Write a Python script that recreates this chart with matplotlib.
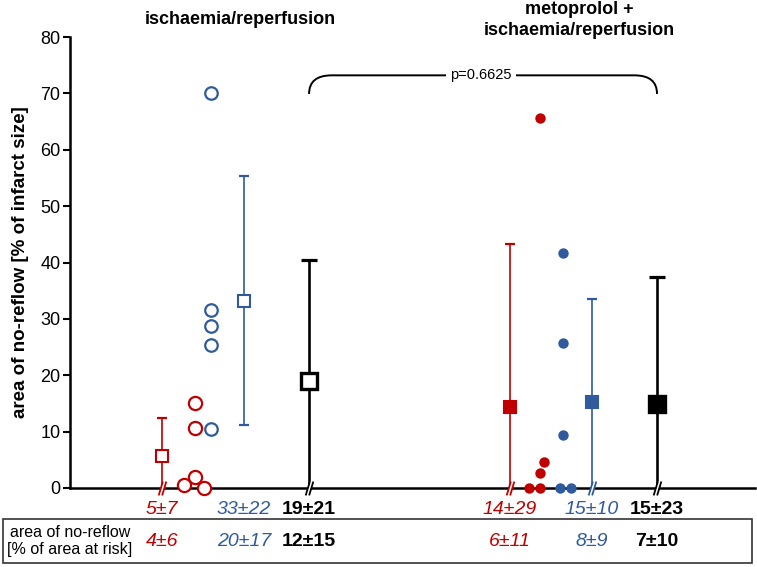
import numpy as np
import matplotlib
matplotlib.use("Agg")
import matplotlib.pyplot as plt
from matplotlib.path import Path
from matplotlib.patches import PathPatch, Rectangle

plt.rcParams['font.family'] = ['Liberation Sans', 'DejaVu Sans']

# ------------------------------------------
# Data
# ------------------------------------------

RED = "#c00000"
BLUE = "#2f5a9e"
BLACK = "#000000"

# individual values, area of no-reflow [% of infarct size]
ir_red = [15.0, 10.7, 1.9, 0.6, 0.0]
ir_blue = [70.0, 31.5, 28.7, 25.3, 10.4]
met_red = [65.6, 4.6, 2.7, 0.0, 0.0]
met_blue = [41.7, 25.8, 9.4, 0.0, 0.0]

# mean and SD (as drawn)
ir_means = [5.7, 33.2, 19.0]
ir_sds = [6.7, 22.1, 21.5]
met_means = [14.4, 15.3, 14.9]
met_sds = [28.8, 18.2, 22.6]

# text rows below the axis
ir_infarct_labels = ["5\u00b17", "33\u00b122", "19\u00b121"]
met_infarct_labels = ["14\u00b129", "15\u00b110", "15\u00b123"]
ir_risk_labels = ["4\u00b16", "20\u00b117", "12\u00b115"]
met_risk_labels = ["6\u00b111", "8\u00b19", "7\u00b110"]

p_text = "p=0.6625"

# ------------------------------------------
# Layout
# ------------------------------------------

ir_pos = [1.34, 2.54, 3.49]      # red mean, blue mean, pooled
met_pos = [6.42, 7.62, 8.57]
ir_dot_x = [1.82, 2.06]          # red dots, blue dots
met_dot_x = [6.86, 7.15]

# small horizontal offsets so overlapping dots do not hide each other
ir_red_off = [0.0, 0.0, 0.01, -0.15, 0.14]
ir_blue_off = [0.0, 0.0, 0.0, 0.0, 0.0]
met_red_off = [0.0, 0.06, 0.0, -0.16, 0.0]
met_blue_off = [0.05, 0.05, 0.05, 0.0, 0.16]

colors = [RED, BLUE, BLACK]

fig = plt.figure(figsize=(7.57, 5.67), dpi=100)
ax = fig.add_axes([70 / 757, 79 / 567, 685 / 757, 451 / 567])

ax.set_xlim(0, 10)
ax.set_ylim(0, 80)

# ------------------------------------------
# Individual points
# ------------------------------------------

ax.plot(np.array(ir_red_off) + ir_dot_x[0], ir_red, "o", ms=9.5, mfc="white",
        mec=RED, mew=1.6, clip_on=False, zorder=5)
ax.plot(np.array(ir_blue_off) + ir_dot_x[1], ir_blue, "o", ms=9, mfc="white",
        mec=BLUE, mew=1.6, clip_on=False, zorder=5)
ax.plot(np.array(met_red_off) + met_dot_x[0], met_red, "o", ms=7.5, color=RED,
        mec="none", clip_on=False, zorder=5)
ax.plot(np.array(met_blue_off) + met_dot_x[1], met_blue, "o", ms=7.5, color=BLUE,
        mec="none", clip_on=False, zorder=5)

# ------------------------------------------
# Mean +/- SD
# ------------------------------------------

break_gap = Path([(-0.5, -1.0), (0.1, 1.0), (0.5, 1.0), (-0.1, -1.0), (-0.5, -1.0)])
break_lines = Path([(-0.55, -1.0), (0.05, 1.0), (-0.05, -1.0), (0.55, 1.0)],
                   [Path.MOVETO, Path.LINETO, Path.MOVETO, Path.LINETO])


def draw_mean(x, m, sd, color, filled, big):
    lw = 1.9 if big else 1.2
    cap = 11.5 if big else 7.5
    ms = 12 if big else 8
    lo = max(m - sd, 0)
    hi = m + sd
    ax.plot([x, x], [lo, hi], color=color, lw=lw, zorder=3, clip_on=False)
    ax.plot([x], [hi], marker="_", ms=cap, mew=lw + 0.4, color=color, zorder=3)
    if m - sd > 0:
        ax.plot([x], [lo], marker="_", ms=cap, mew=lw + 0.4, color=color, zorder=3)
    else:
        ax.plot([x], [0], marker=break_gap, ms=10, color="white", mec="none",
                zorder=6, clip_on=False)
        ax.plot([x], [0], marker=break_lines, ms=10, mfc="none", mec=color,
                mew=1.3, zorder=7, clip_on=False)
    ax.plot([x], [m], "s", ms=ms, mfc=color if filled else "white", mec=color,
            mew=2.4 if big else 1.5, zorder=4)


for i in range(3):
    draw_mean(ir_pos[i], ir_means[i], ir_sds[i], colors[i], False, i == 2)
    draw_mean(met_pos[i], met_means[i], met_sds[i], colors[i], True, i == 2)

# ------------------------------------------
# Bracket with p value
# ------------------------------------------

x0, x1 = ir_pos[2], met_pos[2]
yb, yt = 69.9, 73.2
rx = 0.33
verts = [(x0, yb), (x0, yt), (x0 + rx, yt),
         (x1 - rx, yt), (x1, yt), (x1, yb)]
codes = [Path.MOVETO, Path.CURVE3, Path.CURVE3,
         Path.LINETO, Path.CURVE3, Path.CURVE3]
ax.add_patch(PathPatch(Path(verts, codes), fill=False, lw=1.4, color=BLACK, zorder=2))
ax.text((x0 + x1) / 2 - 0.03, yt, p_text, ha="center", va="center", fontsize=10.5,
        bbox=dict(facecolor="white", edgecolor="none", pad=3), zorder=3)

# ------------------------------------------
# Axes styling
# ------------------------------------------

for s in ["top", "right"]:
    ax.spines[s].set_visible(False)
ax.spines["left"].set_linewidth(1.8)
ax.spines["bottom"].set_linewidth(1.8)
ax.set_xticks([])
ax.set_yticks(np.arange(0, 81, 10))
ax.tick_params(axis="y", length=5, width=1.5, labelsize=13, pad=2)
ax.set_ylabel("area of no-reflow [% of infarct size]", fontsize=13.5,
              fontweight="bold", labelpad=8)

# group titles
fig.text(240 / 757, 1 - 19 / 567, "ischaemia/reperfusion", ha="center", va="center",
         fontsize=13, fontweight="bold")
fig.text(579 / 757, 1 - 20 / 567, "metoprolol +\nischaemia/reperfusion", ha="center",
         va="center", fontsize=13, fontweight="bold", linespacing=1.3)

# ------------------------------------------
# Rows of mean +/- SD below the axis
# ------------------------------------------

row1_y = 510 / 567
row2_y = 541 / 567


def fig_x(x):
    return (70 + x * 68.5) / 757


for i in range(3):
    style = "normal" if i == 2 else "italic"
    weight = "bold" if i == 2 else "normal"
    for pos, lab1, lab2 in [(ir_pos[i], ir_infarct_labels[i], ir_risk_labels[i]),
                            (met_pos[i], met_infarct_labels[i], met_risk_labels[i])]:
        fig.text(fig_x(pos), 1 - row1_y, lab1, ha="center", va="center",
                 fontsize=14, color=colors[i], style=style, fontweight=weight)
        fig.text(fig_x(pos), 1 - row2_y, lab2, ha="center", va="center",
                 fontsize=14, color=colors[i], style=style, fontweight=weight)

fig.patches.append(Rectangle((3 / 757, 1 - 563 / 567), 749 / 757, 44 / 567,
                             transform=fig.transFigure, fill=False,
                             edgecolor="#333333", lw=1.2))
fig.text(70 / 757, 1 - row2_y, "area of no-reflow\n[% of area at risk]",
         ha="center", va="center", fontsize=11.5, linespacing=1.1)

plt.savefig("out.png", dpi=100)
